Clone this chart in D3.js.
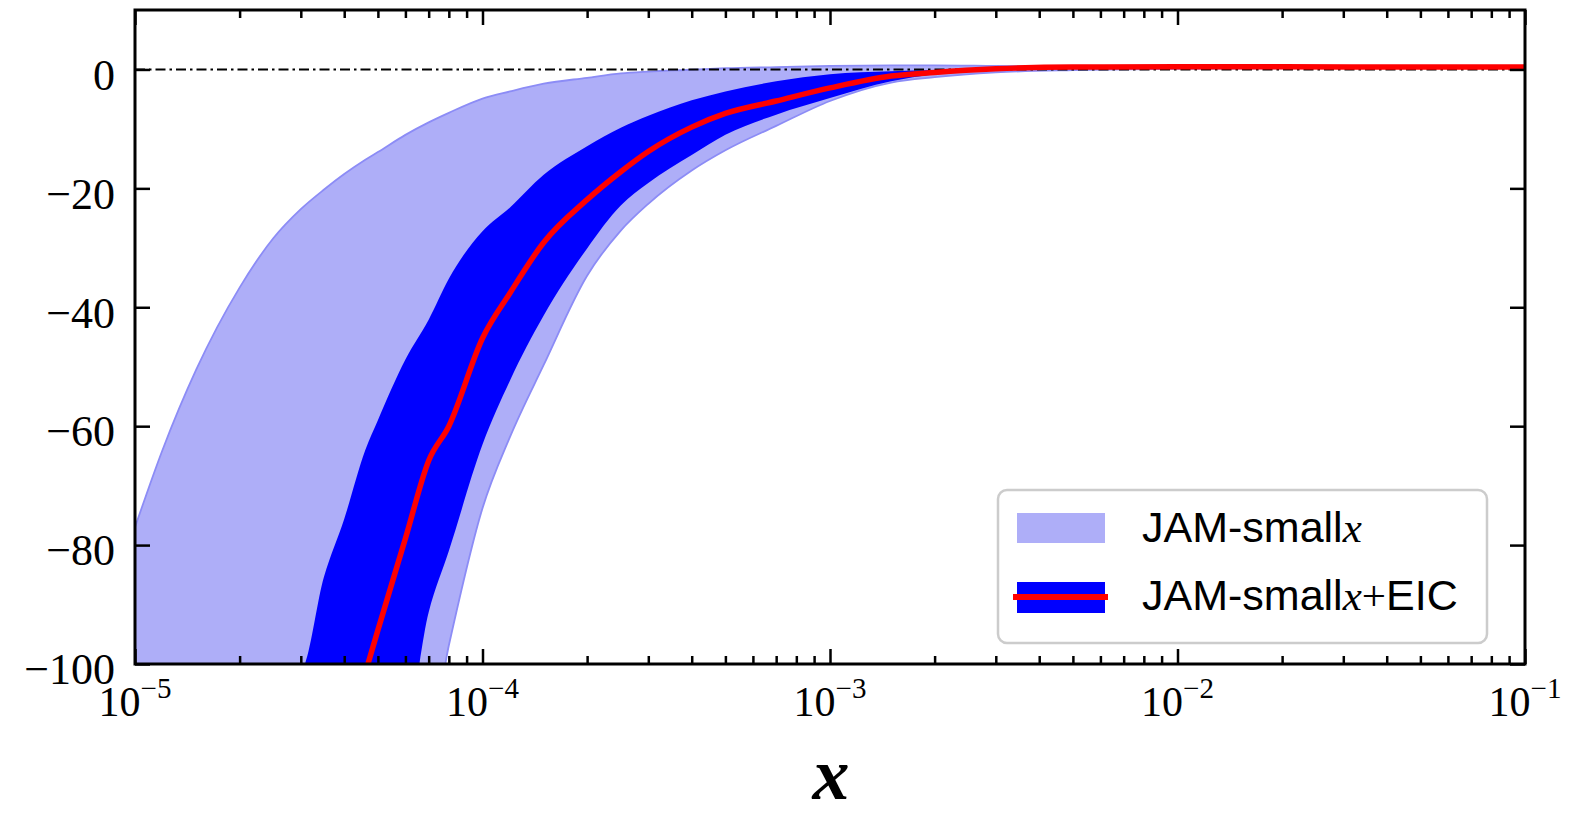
<!DOCTYPE html>
<html lang="en">

<head>
    <meta charset="utf-8">
    <title>JAM-smallx vs JAM-smallx+EIC</title>
    <script type="text/javascript" src="https://cdn.jsdelivr.net/npm/d3@7"></script>
    <style type="text/css">
        body {
            margin: 0;
            background: #fff;
        }

        .tick-label {
            font-family: "Liberation Serif", "DejaVu Serif", serif;
            fill: #000;
        }
    </style>
</head>

<body>
    <script type="text/javascript">
        // x grid shared by every band / line
        var xs = [1e-5, 1.2e-5, 1.5e-5, 2e-5, 2.5e-5, 3e-5, 3.5e-5, 4e-5, 4.6e-5, 5e-5,
            6e-5, 7e-5, 8e-5, 1e-4, 1.2e-4, 1.5e-4, 2e-4, 2.5e-4, 3e-4, 4e-4,
            5e-4, 7e-4, 1e-3, 1.5e-3, 2e-3, 3e-3, 5e-3, 1e-2, 2e-2, 5e-2, 1e-1];

        // JAM-small x band (light)
        var lightHi = [-77, -64, -50.5, -36.7, -28.4, -23.5, -20.2, -17.6, -15.2, -13.9,
            -11, -8.9, -7.3, -4.9, -3.7, -2.4, -1.4, -0.65, -0.35, -0.05,
            0.2, 0.4, 0.6, 0.7, 0.7, 0.6, 0.5, 0.5, 0.4, 0.4, 0.4];
        var lightLo = [-100, -100, -100, -100, -100, -100, -100, -100, -100, -100,
            -100, -113, -96.9, -73.8, -61.8, -49.7, -34.7, -27.1, -22.6, -17,
            -13.6, -9.5, -5.3, -2.2, -1.3, -0.5, -0.1, 0.1, 0.2, 0.3, 0.3];

        // JAM-small x + EIC band (dark)
        var darkHi = [-100, -100, -100, -100, -100, -101, -85.3, -75.6, -64, -59,
            -48.8, -42.1, -35.2, -27.2, -23.2, -17.7, -12.9, -9.8, -7.8, -5.2,
            -3.7, -2.0, -0.8, -0.3, -0.1, 0.1, 0.2, 0.3, 0.3, 0.3, 0.3];
        var darkLo = [-100, -100, -100, -100, -100, -100, -100, -100, -100, -100,
            -110, -91.3, -81, -63.1, -52.3, -41.4, -30.1, -22.9, -19.1, -14.4,
            -11, -7.6, -4.8, -2, -0.8, -0.2, 0.1, 0.2, 0.2, 0.2, 0.2];

        // central curve (red)
        var central = [null, null, null, null, null, null, null, null, -101.5, -94.3,
            -78.9, -65.8, -60, -45.2, -37.6, -29.1, -21.9, -17.2, -13.8, -9.7,
            -7.4, -5.3, -3.1, -1.1, -0.5, 0.1, 0.4, 0.45, 0.45, 0.4, 0.4];

        var yTicks = [0, -20, -40, -60, -80, -100];
        var xDecades = [-5, -4, -3, -2, -1];
        var legendLabels = ["JAM-small", "JAM-small"];

        var w = 1578;
        var h = 814;
        var margin = { left: 135, right: 53, top: 10, bottom: 150 };

        var xScale = d3.scaleLog()
            .domain([1e-5, 1e-1])
            .range([margin.left, w - margin.right]);

        var yScale = d3.scaleLinear()
            .domain([-100, 10])
            .range([h - margin.bottom, margin.top]);

        var svg = d3.select("body")
            .append("svg")
            .attr("width", w)
            .attr("height", h);

        svg.append("clipPath")
            .attr("id", "plot-clip")
            .append("rect")
            .attr("x", margin.left)
            .attr("y", margin.top)
            .attr("width", w - margin.left - margin.right)
            .attr("height", h - margin.top - margin.bottom);

        var rows = xs.map(function (x, i) {
            return {
                x: x, lh: lightHi[i], ll: lightLo[i],
                dh: darkHi[i], dl: darkLo[i], c: central[i]
            };
        });

        var plot = svg.append("g").attr("clip-path", "url(#plot-clip)");
        var curve = d3.curveMonotoneX;

        var lightArea = d3.area()
            .curve(curve)
            .x(d => xScale(d.x))
            .y0(d => yScale(d.ll))
            .y1(d => yScale(d.lh));
        var darkArea = d3.area()
            .curve(curve)
            .x(d => xScale(d.x))
            .y0(d => yScale(d.dl))
            .y1(d => yScale(d.dh));

        plot.append("path")
            .datum(rows)
            .attr("d", lightArea)
            .attr("fill", "#aeaef8");

        // thin edges of the light band
        ["lh", "ll"].forEach(function (k) {
            plot.append("path")
                .datum(rows)
                .attr("d", d3.line().curve(curve).x(d => xScale(d.x)).y(d => yScale(d[k])))
                .attr("fill", "none")
                .attr("stroke", "#8c8cf6")
                .attr("stroke-width", 1.8);
        });

        plot.append("path")
            .datum(rows)
            .attr("d", darkArea)
            .attr("fill", "#0000ff");

        // zero line
        plot.append("line")
            .attr("x1", margin.left)
            .attr("x2", w - margin.right)
            .attr("y1", yScale(0))
            .attr("y2", yScale(0))
            .attr("stroke", "#000")
            .attr("stroke-width", 2)
            .attr("stroke-dasharray", "10,4,2.5,4");

        plot.append("path")
            .datum(rows.filter(d => d.c !== null))
            .attr("d", d3.line().curve(curve).x(d => xScale(d.x)).y(d => yScale(d.c)))
            .attr("fill", "none")
            .attr("stroke", "#ff0000")
            .attr("stroke-width", 5.5)
            .attr("stroke-linejoin", "round");

        // minor x ticks
        var minor = [];
        xDecades.slice(0, -1).forEach(function (p) {
            for (var m = 2; m <= 9; m++) minor.push(m * Math.pow(10, p));
        });
        var major = xDecades.map(p => Math.pow(10, p));

        function styleAxis(g) {
            g.select(".domain").remove();
            g.selectAll(".tick line").attr("stroke", "#000").attr("stroke-width", 2.5);
        }

        var yBottom = h - margin.bottom;
        svg.append("g").attr("transform", "translate(0," + yBottom + ")")
            .call(d3.axisBottom(xScale).tickValues(minor).tickSize(-8).tickFormat(""))
            .call(styleAxis);
        svg.append("g").attr("transform", "translate(0," + yBottom + ")")
            .call(d3.axisBottom(xScale).tickValues(major).tickSize(-15).tickFormat(""))
            .call(styleAxis);
        svg.append("g").attr("transform", "translate(0," + margin.top + ")")
            .call(d3.axisTop(xScale).tickValues(minor).tickSize(-8).tickFormat(""))
            .call(styleAxis);
        svg.append("g").attr("transform", "translate(0," + margin.top + ")")
            .call(d3.axisTop(xScale).tickValues(major).tickSize(-15).tickFormat(""))
            .call(styleAxis);

        // y axes, left with labels, right ticks only
        var yAxisL = svg.append("g").attr("transform", "translate(" + margin.left + ",0)")
            .call(d3.axisLeft(yScale).tickValues(yTicks).tickSize(-15).tickPadding(20))
            .call(styleAxis);
        yAxisL.selectAll(".tick text")
            .attr("class", "tick-label")
            .attr("dy", "0.45em")
            .style("font-size", "44px")
            .style("font-family", "'Liberation Serif', serif");
        svg.append("g").attr("transform", "translate(" + (w - margin.right) + ",0)")
            .call(d3.axisRight(yScale).tickValues(yTicks).tickSize(-15).tickFormat(""))
            .call(styleAxis);

        // x labels 10^p
        xDecades.forEach(function (p) {
            var t = svg.append("text")
                .attr("class", "tick-label")
                .attr("x", xScale(Math.pow(10, p)))
                .attr("y", 716)
                .attr("text-anchor", "middle")
                .style("font-size", "42px");
            t.append("tspan").text("10");
            t.append("tspan")
                .attr("dy", -18)
                .style("font-size", "29px")
                .text("\u2212" + Math.abs(p));
        });

        // x axis title
        svg.append("text")
            .attr("x", (xScale(1e-5) + xScale(1e-1)) / 2 + 1)
            .attr("y", 799)
            .attr("text-anchor", "middle")
            .style("font-family", "'Liberation Serif', serif")
            .style("font-style", "italic")
            .style("font-weight", "bold")
            .style("font-size", "74px")
            .text("x");

        // legend
        var leg = svg.append("g").attr("transform", "translate(998,490)");
        leg.append("rect")
            .attr("width", 489)
            .attr("height", 153)
            .attr("rx", 9)
            .attr("fill", "rgba(255,255,255,0.85)")
            .attr("stroke", "#cccccc")
            .attr("stroke-width", 2.5);
        leg.append("rect")
            .attr("x", 19).attr("y", 23).attr("width", 88).attr("height", 30)
            .attr("fill", "#aeaef8");
        leg.append("rect")
            .attr("x", 19).attr("y", 92).attr("width", 88).attr("height", 31)
            .attr("fill", "#0000ff");
        leg.append("line")
            .attr("x1", 15).attr("x2", 110).attr("y1", 107).attr("y2", 107)
            .attr("stroke", "#ff0000").attr("stroke-width", 6);

        var legY = [52, 120];
        legendLabels.forEach(function (lab, i) {
            var t = leg.append("text")
                .attr("x", 144)
                .attr("y", legY[i])
                .style("font-family", "'Liberation Sans', sans-serif")
                .style("font-size", "43px")
                .attr("fill", "#000");
            t.append("tspan").text(lab);
            t.append("tspan")
                .style("font-family", "'Liberation Serif', serif")
                .style("font-style", "italic")
                .text("x");
            if (i === 1) {
                t.append("tspan")
                    .style("font-family", "'Liberation Serif', serif")
                    .text("+");
                t.append("tspan").text("EIC");
            }
        });

        // frame
        svg.append("rect")
            .attr("x", margin.left)
            .attr("y", margin.top)
            .attr("width", w - margin.left - margin.right)
            .attr("height", h - margin.top - margin.bottom)
            .attr("fill", "none")
            .attr("stroke", "#000")
            .attr("stroke-width", 3);
    </script>
</body>

</html>
